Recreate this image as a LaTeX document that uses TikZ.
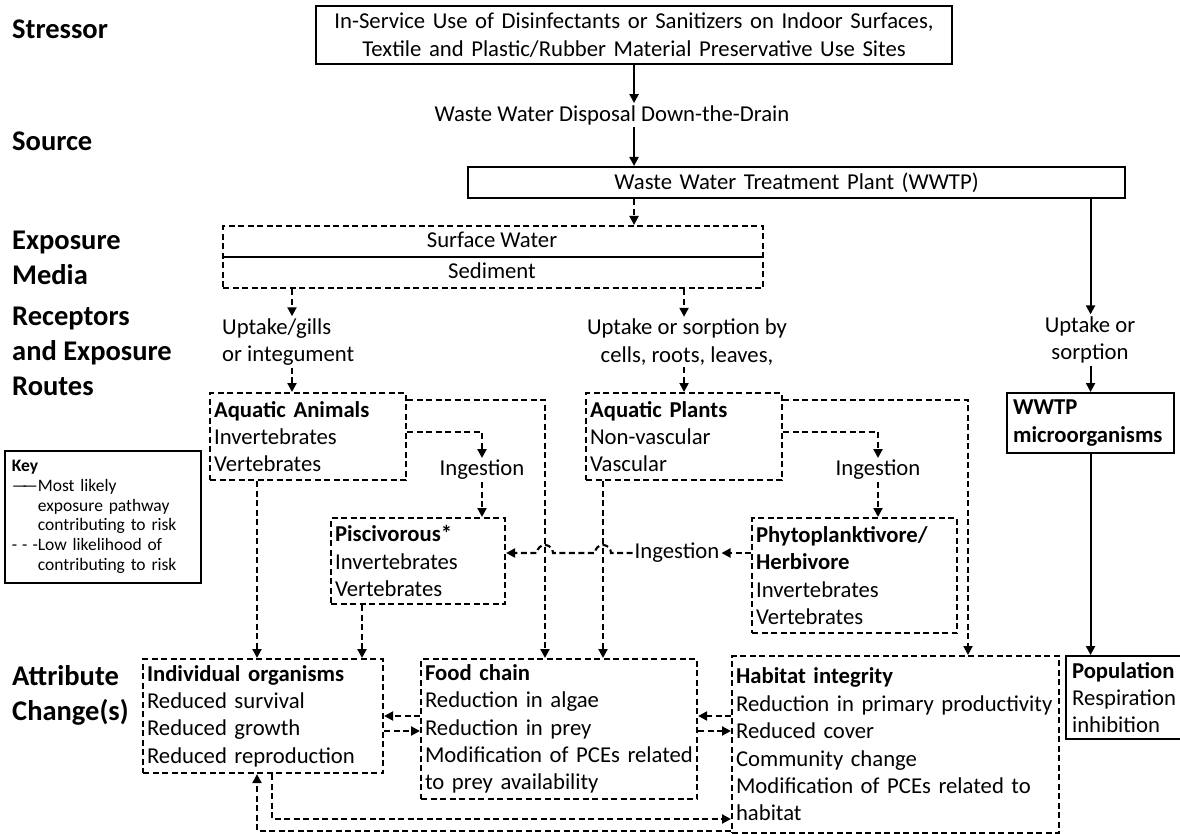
\documentclass[tikz,border=0pt]{standalone}
\usepackage{fontspec}
\setmainfont{Carlito}
\usepackage{tikz}
\usetikzlibrary{arrows.meta,calc}
\newcommand\bodyfont{\fontsize{22.7}{27.4}\selectfont\hyphenpenalty=10000\relax}
\newcommand\headfont{\fontsize{28.5}{35}\selectfont\bfseries}
\newcommand\keyfont{\fontsize{17.5}{19.8}\selectfont\hyphenpenalty=10000\relax}

\begin{document}
\begin{tikzpicture}[x=1pt, y=-1pt,
  panel/.style={draw, line width=2.1pt, anchor=north west, inner xsep=4pt, inner ysep=0pt, align=left, font=\bodyfont},
  dpanel/.style={panel, dash pattern=on 6pt off 3.5pt},
  stage/.style={anchor=west, inner sep=0pt, align=left, font=\headfont},
  note/.style={inner sep=2pt, align=center, font=\bodyfont},
  flow/.style={line width=2.1pt, -{Triangle[length=9pt,width=9pt]}},
  dflow/.style={flow, dash pattern=on 6pt off 3.5pt}
]
\useasboundingbox (0,0) rectangle (1180,834);

% stage labels on the left
\node[stage] (lstress) at (12,29) {Stressor};
\node[stage] (lsource) at (12,141) {Source};
\node[stage] (lmedia) at (12,258) {Exposure\\Media};
\node[stage] (lroutes) at (12,351) {Receptors\\and Exposure\\Routes};
\node[stage] (lattr) at (12,695) {Attribute\\Change(s)};

% key
\node[panel, font=\keyfont, line width=1.8pt, inner xsep=7pt, text width=182pt, minimum height=132pt] (key) at (4,450)
  {\textbf{Key}\\
   \makebox[26pt][s]{\textemdash\hss\textemdash}Most likely\\
   \hspace*{26pt}exposure pathway\\
   \hspace*{26pt}contributing to risk\\
   \makebox[26pt][s]{-\hfil-\hfil-}Low likelihood of\\
   \hspace*{26pt}contributing to risk};

% stressor, source, media
\node[panel, align=center, text width=628pt, minimum height=58pt] (stress) at (315,5)
  {In-Service Use of Disinfectants or Sanitizers on Indoor Surfaces,\\Textile and Plastic/Rubber Material Preservative Use Sites};
\node[note] (disposal) at (612,115) {Waste Water Disposal Down-the-Drain};
\node[panel, align=center, text width=649pt, minimum height=31pt] (wwtp) at (467,166) {Waste Water Treatment Plant (WWTP)};
\node[dpanel, minimum width=540pt, minimum height=62pt] (media) at (222,225) {};
\node[note] (surf) at (492,240) {Surface Water};
\node[note] (sed) at (492,271) {Sediment};
\draw[line width=2.1pt] (media.west) -- (media.east);

% exposure routes
\node[note, anchor=west, align=left, inner xsep=0pt] (gills) at (222,342) {Uptake/gills\\or integument};
\node[note] (plantsUp) at (687,342) {Uptake or sorption by\\cells, roots, leaves,};
\node[note] (wwtpUp) at (1090,340) {Uptake or\\sorption};

% receptors
\node[dpanel, text width=188pt, minimum height=87pt] (animals) at (209,392) {\textbf{Aquatic Animals}\\Invertebrates\\Vertebrates};
\node[dpanel, text width=188pt, minimum height=87pt] (plants) at (585,392) {\textbf{Aquatic Plants}\\Non-vascular\\Vascular};
\node[panel, inner xsep=6pt, text width=155pt, minimum height=60pt] (micro) at (1006,392) {\textbf{WWTP}\\\textbf{microorganisms}};
\node[note] (ingL) at (482,470) {Ingestion};
\node[note] (ingR) at (878,470) {Ingestion};
\node[note] (ingM) at (677,553) {Ingestion};
\node[dpanel, text width=166pt, minimum height=86pt] (pisc) at (330,517) {\textbf{Piscivorous*}\\Invertebrates\\Vertebrates};
\node[dpanel, text width=197pt, minimum height=115pt] (phyto) at (751,517) {\textbf{Phytoplanktivore/}\\\textbf{Herbivore}\\Invertebrates\\Vertebrates};

% attribute changes
\node[dpanel, text width=232pt, minimum height=114pt] (io) at (142,658) {\textbf{Individual organisms}\\Reduced survival\\Reduced growth\\Reduced reproduction};
\node[dpanel, text width=268pt, minimum height=140pt] (fc) at (420,658) {\textbf{Food chain}\\Reduction in algae\\Reduction in prey\\Modification of PCEs related\\to prey availability};
\node[dpanel, text width=319pt, minimum height=177pt] (hab) at (731,655) {\textbf{Habitat integrity}\\Reduction in primary productivity\\Reduced cover\\Community change\\Modification of PCEs related to\\habitat};
\node[panel, inner xsep=6pt, text width=106pt, minimum height=83pt] (pop) at (1065,655) {\textbf{Population}\\Respiration\\inhibition};

% helper columns and levels
\coordinate (gx) at (292,0);
\coordinate (colA) at (545,400);
\coordinate (colB) at (482,432);
\coordinate (colP) at (603,0);
\coordinate (colH) at (968,400);
\coordinate (colI) at (878,432);
\coordinate (colL) at (257,0);
\coordinate (colR) at (272,0);
\coordinate (colF) at (362,0);
\coordinate (lvU) at (0,716);
\coordinate (lvD) at (0,731);
\coordinate (lvA) at (0,819);
\coordinate (lvB) at (0,831);

% solid pathways
\draw[flow] (stress.south) -- (stress.south |- disposal.north);
\draw[flow] (disposal.south -| stress.south) -- (wwtp.north -| stress.south);
\draw[flow] (wwtp.south -| micro.north) -- (micro.north |- wwtpUp.north);
\draw[flow] (micro.north |- wwtpUp.south) -- (micro.north);
\draw[flow] (micro.south) -- (micro.south |- pop.north);

% dashed pathways
\draw[dflow] (wwtp.south -| stress.south) -- (media.north -| stress.south);
\draw[dflow] (media.south -| gx) -- (gills.north -| gx);
\draw[dflow] (gills.south -| gx) -- (animals.north -| gx);
\draw[dflow] (media.south -| plants.north) -- (plantsUp.north -| plants.north);
\draw[dflow] (plantsUp.south -| plants.north) -- (plants.north);

\draw[dflow] (animals.east |- colA) -| (fc.north -| colA);
\draw[dflow] (animals.east |- colB) -| (ingL.north);
\draw[dflow] (ingL.south) -- (pisc.north -| ingL.south);
\draw[dflow] (animals.south -| colL) -- (io.north -| colL);
\draw[dflow] (pisc.south -| colF) -- (io.north -| colF);

\draw[dflow] (plants.east |- colH) -| (hab.north -| colH);
\draw[dflow] (plants.east |- colI) -| (ingR.north);
\draw[dflow] (ingR.south) -- (phyto.north -| ingR.south);
\draw[dflow] (plants.south -| colP) -- (fc.north -| colP);

\draw[dflow] (phyto.west |- ingM) -- (ingM.east);
\draw[dflow] (ingM.west) -- ($(colP |- ingM)+(8,0)$) arc[start angle=0, end angle=180, radius=8pt]
  -- ($(colA |- ingM)+(8,0)$) arc[start angle=0, end angle=180, radius=8pt] -- (pisc.east |- ingM);

\draw[dflow] (fc.west |- lvU) -- (io.east |- lvU);
\draw[dflow] (io.east |- lvD) -- (fc.west |- lvD);
\draw[dflow] (hab.west |- lvU) -- (fc.east |- lvU);
\draw[dflow] (fc.east |- lvD) -- (hab.west |- lvD);

\draw[dflow] (io.south -| colR) |- (hab.west |- lvA);
\draw[dflow] (hab.west |- lvB) -| (io.south -| colL);
\end{tikzpicture}
\end{document}
